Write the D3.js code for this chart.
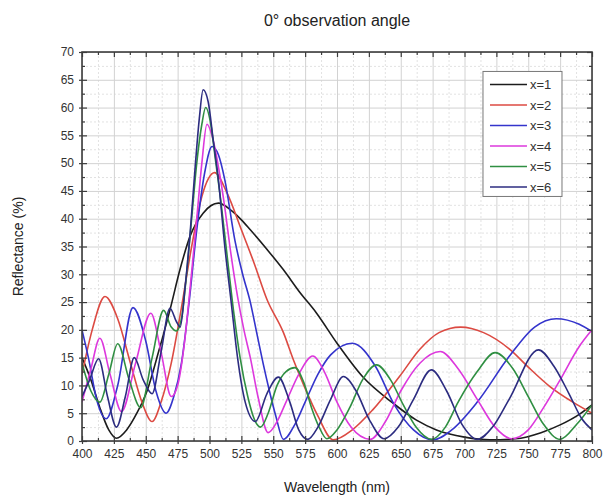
<!DOCTYPE html>
<html>
<head>
<meta charset="utf-8">
<script src="https://cdn.jsdelivr.net/npm/d3@7"></script>
<style>
	body { margin: 0; background: #fff; }
	svg { display: block; font-family: "Liberation Sans", Arial, sans-serif; }
	.grid--major line { stroke: #d2d2d2; stroke-width: 1; }
	.grid--minor line { stroke: #e2e2e2; stroke-width: 1; stroke-dasharray: 2,2; }
	.grid path { display: none; }
	.axis path { display: none; }
	.axis line { stroke: #3c3c3c; stroke-width: 1.2; }
	.axis text { fill: #333; font-size: 12px; }
	.frame { fill: none; stroke: #3c3c3c; stroke-width: 1.6; }
	.chart-path { fill: none; stroke-width: 1.6; }
	.legend-box { fill: #fff; stroke: #777; stroke-width: 1; }
</style>
</head>
<body>
<svg id="line-chart" width="605" height="500"></svg>
<script>
// values, [wavelength (nm), reflectance (%)]
var xTicks = [400, 425, 450, 475, 500, 525, 550, 575, 600, 625, 650, 675, 700, 725, 750, 775, 800];
var yTicks = [0, 5, 10, 15, 20, 25, 30, 35, 40, 45, 50, 55, 60, 65, 70];
var seriesNames = ['x=1', 'x=2', 'x=3', 'x=4', 'x=5', 'x=6'];
var seriesColors = ['#1c1c1c', '#dc4a42', '#3434cc', '#dd38dd', '#2f8f42', '#2c2c80'];

var seriesX1 = [[400,15],[407,11],[414,6],[421,2],[427,0.5],[435,2],[443,5],[451,9],[460,16],[469,23.6],[477,31],[485,37],[495,41],[507,42.8],[517,41.5],[525,39.8],[532,38],[545,34.5],[558,30.8],[570,27],[584,23],[600,17.6],[620,11.6],[644,6.8],[662,3.8],[678,2],[700,0.7],[720,0.2],[740,0.4],[760,1.5],[775,2.9],[790,4.8],[800,6.5]];
var seriesX2 = [[400,12],[408,20],[418,26],[428,22],[438,14],[447,7],[455,3.5],[462,7],[470,14],[478,24],[486,35],[494,44],[504,48.3],[514,44.5],[525,38],[535,32],[545,25.5],[558,19.5],[566,14.5],[574,10],[585,4.5],[597,0.2],[612,2],[628,5.6],[649,11.6],[665,16.5],[680,19.5],[697,20.5],[715,19.5],[736,16.4],[750,13.3],[767,9.8],[785,7],[800,5]];
var seriesX3 = [[400,20],[405,15],[412,7],[419,4],[428,10],[440,24],[450,18],[458,9],[466,5],[472,8],[478,14],[484,25],[490,38],[496,48],[502,53],[507,51.5],[512,47],[520,36],[526,30],[532,25],[537,19.5],[542,14],[547,9],[552,4.5],[558,0.3],[567,3],[575,7],[585,12],[595,15.5],[612,17.6],[630,13.5],[645,6.5],[660,2],[675,0.2],[690,2],[710,7],[735,15.2],[755,20.5],[772,22],[790,21],[800,19.7]];
var seriesX4 = [[400,7],[407,13],[414,18.5],[422,12],[431,5.3],[442,14],[454,23],[462,16],[470,8],[475,10],[480,17],[485,28],[490,40],[494,50],[498,57],[503,54],[508,48],[512,42],[516,35],[522,26],[527,20],[532,15],[538,8],[546,1.5],[553,3.5],[560,7],[570,12],[581,15.3],[590,12.5],[600,7],[611,2.5],[626,0.3],[638,3.5],[650,9],[665,14],[681,16.1],[695,13],[710,7.5],[724,2.5],[737,0.4],[750,2],[762,6],[775,11],[790,17],[800,20]];
var seriesX5 = [[400,14],[407,9],[414,7],[421,12],[428,17.5],[437,11],[446,6],[455,15],[464,23.5],[470,20.5],[474,19.8],[478,22],[482,30],[486,40],[490,50],[494,57],[497,60],[501,57],[505,50],[509,43],[513,35],[518,25],[524,15],[530,8],[535,4],[540,2.5],[546,5],[553,10],[560,12.5],[567,13.2],[574,10.5],[580,6],[586,2.5],[592,0.4],[600,2],[610,6],[620,11],[631,13.7],[642,11],[652,6.5],[662,2.5],[674,0.3],[685,2.5],[695,7],[710,12.5],[724,15.9],[738,13],[750,8],[762,3],[775,0.3],[788,3],[800,6.5]];
var seriesX6 = [[400,8],[406,11],[413,14.8],[420,8],[427,2.5],[434,8],[441,15],[448,11],[455,8.5],[462,16],[469,23.9],[474,21.5],[477,20.5],[481,28],[485,38],[489,50],[492,58],[495,63.2],[499,61],[503,54],[507,47],[512,35],[517,25],[522,15],[528,7],[536,3.5],[545,8.5],[554,11.5],[563,7],[570,2],[577,0.3],[585,2.5],[595,7.5],[605,11.6],[615,9],[625,4],[637,0.4],[648,2.5],[660,7.5],[674,12.8],[686,9],[698,3],[710,0.3],[722,2.5],[735,7.5],[758,16.4],[770,13.5],[782,8.5],[792,4],[800,2]];

var allSeries = [seriesX1, seriesX2, seriesX3, seriesX4, seriesX5, seriesX6];

(function() {

	'use strict';

	var svg = d3.select('#line-chart'),
		margin = {top: 52, right: 13, bottom: 59, left: 82},
		width = 605 - margin.left - margin.right,
		height = 500 - margin.top - margin.bottom,
		xScale,
		yScale,
		chartGroup;


	/**
	* scales for wavelength and reflectance
	*/
	var initScales = function() {
		xScale = d3.scaleLinear().domain([400, 800]).range([0, width]);
		yScale = d3.scaleLinear().domain([0, 70]).range([height, 0]);
	};


	/**
	* light major grid plus dashed minor grid
	*/
	var drawGrid = function() {
		var xMinor = d3.range(412.5, 800, 25),
			yMinor = d3.range(2.5, 70, 5);

		chartGroup.append('g')
			.attr('class', 'grid grid--minor')
			.call(d3.axisBottom(xScale).tickValues(xMinor).tickSize(height).tickFormat(''));
		chartGroup.append('g')
			.attr('class', 'grid grid--minor')
			.call(d3.axisRight(yScale).tickValues(yMinor).tickSize(width).tickFormat(''));
		chartGroup.append('g')
			.attr('class', 'grid grid--major')
			.call(d3.axisBottom(xScale).tickValues(xTicks).tickSize(height).tickFormat(''));
		chartGroup.append('g')
			.attr('class', 'grid grid--major')
			.call(d3.axisRight(yScale).tickValues(yTicks).tickSize(width).tickFormat(''));
	};


	/**
	* axes on all four sides, labels on bottom and left
	*/
	var createAxes = function() {
		var xMinor = d3.range(412.5, 800, 25),
			yMinor = d3.range(2.5, 70, 5);

		// bottom: labels with outward ticks, plus inward ticks
		chartGroup.append('g')
			.attr('class', 'axis axis--bottom')
			.attr('transform', 'translate(0,' + height + ')')
			.call(d3.axisBottom(xScale).tickValues(xTicks).tickSize(3).tickPadding(5));
		chartGroup.append('g')
			.attr('class', 'axis')
			.attr('transform', 'translate(0,' + height + ')')
			.call(d3.axisTop(xScale).tickValues(xTicks).tickSize(5).tickFormat(''));
		chartGroup.append('g')
			.attr('class', 'axis')
			.attr('transform', 'translate(0,' + height + ')')
			.call(d3.axisTop(xScale).tickValues(xMinor).tickSize(3).tickFormat(''));

		// left
		chartGroup.append('g')
			.attr('class', 'axis axis--left')
			.call(d3.axisLeft(yScale).tickValues(yTicks).tickSize(3).tickPadding(5));
		chartGroup.append('g')
			.attr('class', 'axis')
			.call(d3.axisRight(yScale).tickValues(yTicks).tickSize(5).tickFormat(''));
		chartGroup.append('g')
			.attr('class', 'axis')
			.call(d3.axisRight(yScale).tickValues(yMinor).tickSize(3).tickFormat(''));

		// top and right, ticks pointing in
		chartGroup.append('g')
			.attr('class', 'axis')
			.call(d3.axisBottom(xScale).tickValues(xTicks).tickSize(5).tickFormat(''));
		chartGroup.append('g')
			.attr('class', 'axis')
			.call(d3.axisBottom(xScale).tickValues(xMinor).tickSize(3).tickFormat(''));
		chartGroup.append('g')
			.attr('class', 'axis')
			.attr('transform', 'translate(' + width + ',0)')
			.call(d3.axisLeft(yScale).tickValues(yTicks).tickSize(5).tickFormat(''));
		chartGroup.append('g')
			.attr('class', 'axis')
			.attr('transform', 'translate(' + width + ',0)')
			.call(d3.axisLeft(yScale).tickValues(yMinor).tickSize(3).tickFormat(''));

		chartGroup.append('rect')
			.attr('class', 'frame')
			.attr('width', width)
			.attr('height', height);
	};


	/**
	* draw one spectrum
	*/
	var drawLine = function(dataset, color) {
		var line = d3.line()
			.curve(d3.curveMonotoneX)
			.x(function(d) { return xScale(d[0]); })
			.y(function(d) { return yScale(d[1]); });

		chartGroup.append('path')
			.datum(dataset)
			.attr('class', 'chart-path')
			.attr('clip-path', 'url(#plot-clip)')
			.attr('stroke', color)
			.attr('d', line);
	};


	var drawLegend = function() {
		var legend = chartGroup.append('g')
			.attr('transform', 'translate(' + xScale(714.5) + ',' + yScale(66.5) + ')');

		legend.append('rect')
			.attr('class', 'legend-box')
			.attr('width', 79)
			.attr('height', 125);

		var rows = legend.selectAll('g.row')
			.data(seriesNames)
			.enter()
			.append('g')
			.attr('class', 'row')
			.attr('transform', function(d, i) { return 'translate(0,' + (13 + i * 20.5) + ')'; });

		rows.append('line')
			.attr('x1', 7)
			.attr('x2', 44)
			.attr('stroke-width', 1.6)
			.attr('stroke', function(d, i) { return seriesColors[i]; });

		rows.append('text')
			.attr('x', 47)
			.attr('dy', '0.35em')
			.attr('fill', '#333')
			.style('font-size', '13px')
			.text(function(d) { return d; });
	};


	var drawTitles = function() {
		svg.append('text')
			.attr('x', margin.left + width / 2)
			.attr('y', 26)
			.attr('text-anchor', 'middle')
			.attr('fill', '#222')
			.style('font-size', '16px')
			.text('0° observation angle');

		svg.append('text')
			.attr('x', margin.left + width / 2)
			.attr('y', 492)
			.attr('text-anchor', 'middle')
			.attr('fill', '#222')
			.style('font-size', '14px')
			.text('Wavelength (nm)');

		svg.append('text')
			.attr('transform', 'translate(23,' + (margin.top + height / 2) + ') rotate(-90)')
			.attr('text-anchor', 'middle')
			.attr('fill', '#222')
			.style('font-size', '14px')
			.text('Reflectance (%)');
	};


	var init = function() {
		chartGroup = svg.append('g').attr('transform', 'translate(' + margin.left + ',' + margin.top + ')');

		svg.append('defs').append('clipPath').attr('id', 'plot-clip')
			.append('rect').attr('width', width).attr('height', height);

		initScales();
		drawGrid();
		allSeries.forEach(function(s, i) {
			drawLine(s, seriesColors[i]);
		});
		createAxes();
		drawLegend();
		drawTitles();
	};

	init();

})();
</script>
</body>
</html>
